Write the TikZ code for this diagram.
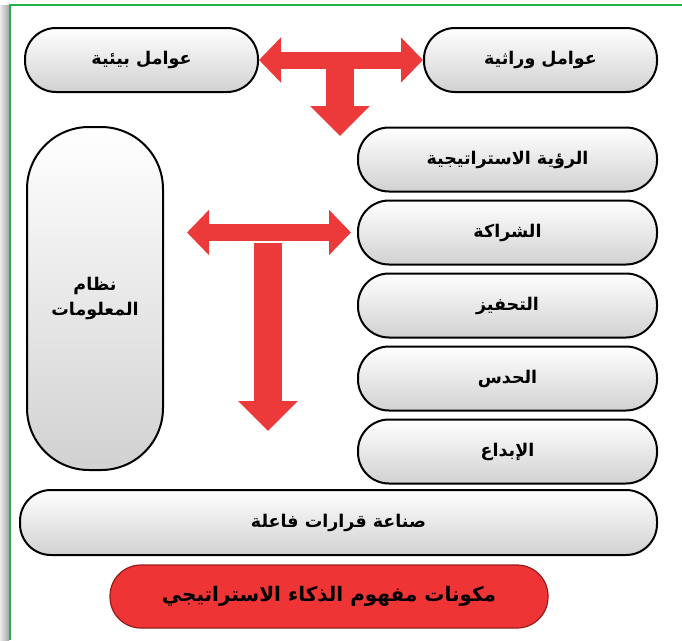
\documentclass[tikz,border=0pt]{standalone}
\usepackage{fontspec}
\usepackage{tikz}
\usetikzlibrary{arrows.meta,positioning}
\TeXXeTstate=1
\newfontfamily\arabicfont[Script=Arabic]{DejaVu Sans}
\newcommand{\artext}[1]{{\arabicfont\bfseries\beginR #1\endR}}
\definecolor{framegreen}{RGB}{34,177,76}
\definecolor{arrowred}{RGB}{236,58,58}
\definecolor{titlered}{RGB}{238,52,52}
\definecolor{titleedge}{RGB}{150,28,28}

\begin{document}
\begin{tikzpicture}[x=1pt,y=-1pt,font=\fontsize{17.5}{25}\selectfont,node distance=7pt,
      b/.style={draw,line width=2pt,rounded corners=31pt,top color=white,bottom color=black!18,
        minimum height=64pt,inner sep=0pt},
      r/.style={b,minimum width=299pt},
      a/.style={draw=arrowred,line width=17pt,{Triangle[width=44pt,length=22pt]}-{Triangle[width=44pt,length=22pt]}},
      d/.style={draw=arrowred,line width=28pt,-{Triangle[width=58pt,length=30pt]}}]
      \useasboundingbox (0,0) rectangle (682,640);
      % frame
      \fill[left color=black!8,right color=black!35] (0,5) rectangle (9,640);
      \draw[framegreen,line width=1.5pt] (10,640) -- (10,5) -- (682,5);
      % top row
      \node[b,minimum width=233pt] (env) at (141.5,60) {\artext{عوامل بيئية}};
      \node[b,minimum width=233pt] (gen) at (540.5,60) {\artext{عوامل وراثية}};
      % right column
      \node[r] (vision) at (507.5,159.5) {\artext{الرؤية الاستراتيجية}};
      \node[r,below=of vision] (partner) {\artext{الشراكة}};
      \node[r,below=of partner] (motiv) {\artext{التحفيز}};
      \node[r,below=of motiv] (intuit) {\artext{الحدس}};
      \node[r,below=of intuit] (create) {\artext{الإبداع}};
      % left column
      \node[b,rounded corners=62pt,minimum width=136pt,minimum height=343pt,align=center] (info) at (95,298.5)
        {\artext{نظام}\\\artext{المعلومات}};
      % bottom
      \node[b,minimum width=637pt,minimum height=65pt] (decide) at (338.5,522.5) {\artext{صناعة قرارات فاعلة}};
      \node[draw=titleedge,fill=titlered,line width=1.2pt,rounded corners=31pt,minimum width=438pt,
        minimum height=63pt,font=\fontsize{20}{24}\selectfont] (title) at (329,596.5)
        {\artext{مكونات مفهوم الذكاء الاستراتيجي}};
      % arrows
      \coordinate (t1) at (340,68);
      \coordinate (t2) at (340,136);
      \coordinate (m1) at (268,243);
      \coordinate (m2) at (268,431);
      \draw[d] (t1) -- (t2);
      \draw[d] (m1) -- (m2);
      \draw[a] (env) -- (gen);
      \draw[a,shorten <=23pt,shorten >=6pt] (partner.west -| info.east) -- (partner.west);
    \end{tikzpicture}
\end{document}
